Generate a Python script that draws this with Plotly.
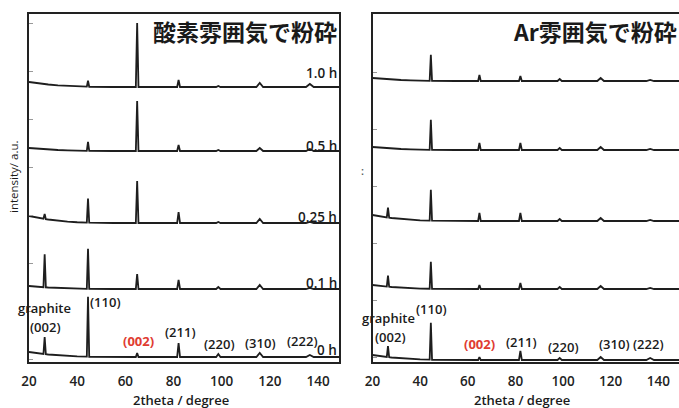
import numpy as np
import plotly.graph_objects as go

# ---------------- data ----------------
PEAK_POS = [26.5, 44.5, 64.9, 82.1, 98.6, 115.8, 136.6]   # 2theta, degree
PEAK_HALFWIDTH = [0.5, 0.5, 0.55, 0.6, 0.9, 1.4, 1.6]
TIMES = ["1.0 h", "0.5 h", "0.25 h", "0.1 h", "0 h"]

# background decay at low angle (shared shape)
BG_X = [20, 24, 28, 32, 36, 40, 45, 55, 150]
BG_SHAPE = [1.0, 0.72, 0.5, 0.33, 0.2, 0.11, 0.05, 0.0, 0.0]

# left panel: milled in oxygen atmosphere
O2_OFFSET = [275, 211, 139, 73, 5]
O2_BG_AMP = [5, 3, 7, 3, 5]
O2_HEIGHTS = [
    [0, 6, 64, 7, 1, 4, 3],      # 1.0 h
    [0, 9, 50, 6, 1, 3, 2],      # 0.5 h
    [5, 24, 42, 11, 1, 4, 1],    # 0.25 h
    [33, 40, 15, 9, 2, 4, 1],    # 0.1 h
    [17, 60, 4, 14, 3, 4, 2],    # 0 h
]

# right panel: milled in Ar atmosphere
AR_OFFSET = [281, 212, 141, 73, 2]
AR_BG_AMP = [3, 3, 6, 4, 5]
AR_HEIGHTS = [
    [0, 26, 6, 5, 2, 3, 1],      # 1.0 h
    [0, 30, 7, 7, 2, 3, 1],      # 0.5 h
    [10, 31, 8, 8, 2, 3, 1],     # 0.25 h
    [11, 27, 4, 6, 2, 3, 1],     # 0.1 h
    [11, 37, 3, 9, 2, 3, 2],     # 0 h
]

MILLER = ["(110)", "(002)", "(211)", "(220)", "(310)", "(222)"]

# ---------------- helpers ----------------
def pattern(offset, bg_amp, heights):
    xs = list(BG_X)
    for p, w, h in zip(PEAK_POS, PEAK_HALFWIDTH, heights):
        if h > 0:
            xs += [p - w, p, p + w]
    xs = np.array(sorted(set(xs)), dtype=float)
    ys = offset + bg_amp * np.interp(xs, BG_X, BG_SHAPE)
    for p, w, h in zip(PEAK_POS, PEAK_HALFWIDTH, heights):
        ys = ys + h * np.clip(1 - np.abs(xs - p) / w, 0, None)
    return xs, ys


LINE = "#1e1e1e"
XR = [20, 148.7]
YR = [0, 348]

fig = go.Figure()
for heights, offs, amps, xa, ya in [
    (O2_HEIGHTS, O2_OFFSET, O2_BG_AMP, "x", "y"),
    (AR_HEIGHTS, AR_OFFSET, AR_BG_AMP, "x2", "y2"),
]:
    for h, o, a in zip(heights, offs, amps):
        x, y = pattern(o, a, h)
        fig.add_trace(go.Scatter(x=x, y=y, mode="lines", xaxis=xa, yaxis=ya,
                                 line=dict(color=LINE, width=1.8),
                                 showlegend=False, hoverinfo="skip"))

TXT = "Open Sans"
axis_common = dict(showline=True, linecolor="#222", linewidth=2, mirror=True,
                   showgrid=False, zeroline=False, automargin=False)
tickfont = dict(size=13.5, color="#222", family=TXT, weight=600)

fig.update_layout(
    width=679, height=408,
    margin=dict(l=0, r=0, t=0, b=0, autoexpand=False),
    paper_bgcolor="white", plot_bgcolor="white",
    font=dict(family=TXT, color="#222"),
    xaxis=dict(domain=[29 / 679, 339 / 679], range=XR, tickvals=[20, 40, 60, 80, 100, 120, 140],
               ticks="", tickfont=tickfont, ticklabelstandoff=6, **axis_common),
    yaxis=dict(domain=[46 / 408, 394 / 408], range=YR, ticks="inside", ticklen=4,
               tickcolor="#999", tick0=3, dtick=48, showticklabels=False, **axis_common),
    xaxis2=dict(domain=[372.5 / 679, 1.0], range=XR, tickvals=[20, 40, 60, 80, 100, 120, 140],
                ticks="", tickfont=tickfont, ticklabelstandoff=6,
                anchor="y2", **axis_common),
    yaxis2=dict(domain=[46 / 408, 394 / 408], range=YR, ticks="inside", ticklen=4,
                tickcolor="#999", tick0=5, dtick=57, showticklabels=False,
                anchor="x2", **axis_common),
)

ann = []

def add(text, x, y, xref, yref, size=12, color="#1a1a1a", xanchor="center", weight=600,
        family=TXT, angle=0):
    ann.append(dict(text=text, x=x, y=y, xref=xref, yref=yref,
                    showarrow=False, xanchor=xanchor, yanchor="middle",
                    font=dict(size=size, color=color, family=family, weight=weight),
                    textangle=angle))

# panel titles
CJK = "Noto Sans CJK JP"
add("酸素雰囲気で粉砕", 148.5, 331, "x", "y", size=23, xanchor="right", weight=700, family=CJK)
add("Ar雰囲気で粉砕", 148.7, 331, "x2", "y2", size=23, xanchor="right", weight=700, family=CJK)

# time labels
O2_TIME_Y = [289, 216, 145, 79, 12]
AR_TIME_Y = [291, 222, 154, 80, 12]
for t, yy in zip(TIMES, O2_TIME_Y):
    add(t, 148.5, yy, "x", "y", size=13.5, xanchor="right")
for t, yy in zip(TIMES, AR_TIME_Y):
    add(t, 149.2, yy, "x2", "y2", size=13.5, xanchor="right")

# peak labels at 0 h
O2_LAB_X = [51.6, 65.3, 82.7, 99.1, 116.3, 133.4]
O2_LAB_Y = [60, 21, 30, 18, 19, 21]
AR_LAB_X = [44.6, 65.0, 82.7, 100.4, 121.5, 135.8]
AR_LAB_Y = [53, 18, 20, 15, 18, 18]
for lx, ly, xr, yr in [(O2_LAB_X, O2_LAB_Y, "x", "y"), (AR_LAB_X, AR_LAB_Y, "x2", "y2")]:
    for m, xx, yy in zip(MILLER, lx, ly):
        red = (m == "(002)")
        add(m, xx, yy, xr, yr, size=13, color="#e03c31" if red else "#1a1a1a",
            weight=700 if red else 600)

add("graphite", 26.6, 54, "x", "y", size=13)
add("(002)", 27.0, 35, "x", "y", size=13)
add("graphite", 26.9, 44, "x2", "y2", size=13)
add("(002)", 27.4, 25, "x2", "y2", size=13)

# axis titles
add("2theta / degree", 181 / 679, 8 / 408, "paper", "paper", size=13)
add("2theta / degree", 522 / 679, 8 / 408, "paper", "paper", size=13)
add("intensity/ a.u.", 13 / 679, 1 - 177 / 408, "paper", "paper", size=11.5, angle=-90, weight=400)
add(":", 362 / 679, 1 - 170 / 408, "paper", "paper", size=11, color="#555")

fig.update_layout(annotations=ann)
fig.write_html("out.html", config={"displayModeBar": False},
               post_script="document.body.style.margin='0';document.body.style.overflow='hidden';")
